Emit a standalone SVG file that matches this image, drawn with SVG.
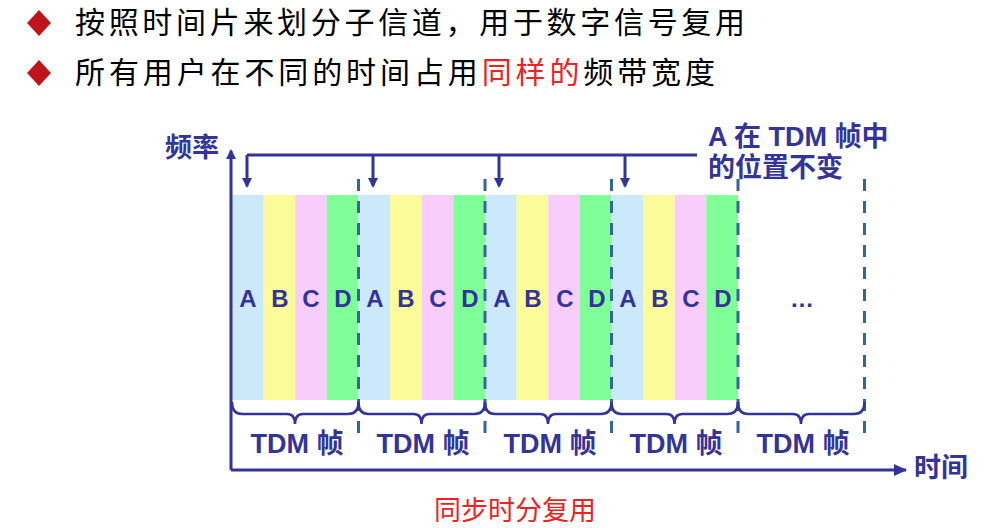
<svg xmlns="http://www.w3.org/2000/svg" width="1004" height="528" viewBox="0 0 1004 528">
<style>
.hd{font-family:"Noto Sans CJK SC","Noto Sans",sans-serif;font-size:30px;fill:#000}
.lb{font-family:"Liberation Sans","Noto Sans CJK SC",sans-serif;font-weight:bold;fill:#333399}
.sl{font-size:24px;text-anchor:middle}
.tf{font-size:27px;text-anchor:middle}
.ax{stroke:#333399;stroke-width:3;fill:none}
.dash{stroke:#336699;stroke-width:3;stroke-dasharray:12 10;fill:none}
.br{stroke:#333399;stroke-width:2.5;fill:none}
.a{fill:#CCE8FB}.b{fill:#FBFB99}.c{fill:#F8CCFB}.d{fill:#80FF99}
</style>
<defs>
<marker id="ah" markerWidth="10" markerHeight="10" refX="8" refY="5" orient="auto" markerUnits="userSpaceOnUse">
<path d="M0,0 L10,5 L0,10 Z" fill="#333399"/>
</marker>
<marker id="ah2" markerWidth="14" markerHeight="14" refX="12" refY="7" orient="auto" markerUnits="userSpaceOnUse">
<path d="M0,1 L13,7 L0,13 Z" fill="#333399"/>
</marker>
</defs>
<g id="header">
<path d="M39,10 L51,23 L39,36 L27,23 Z" fill="#C0141C"/>
<text class="hd" x="75" y="33" textLength="670">按照时间片来划分子信道，用于数字信号复用</text>
<path d="M39,60 L51,73 L39,86 L27,73 Z" fill="#C0141C"/>
<text class="hd" x="75" y="83" textLength="640">所有用户在不同的时间占用<tspan fill="#EE2222">同样的</tspan>频带宽度</text>
</g>
<g id="frames">
<g id="frame1">
<rect class="a" x="232" y="195" width="31.6" height="205"/><rect class="b" x="263.6" y="195" width="31.6" height="205"/><rect class="c" x="295.2" y="195" width="31.6" height="205"/><rect class="d" x="326.8" y="195" width="31.7" height="205"/>
<text class="lb sl" x="248" y="307">A</text><text class="lb sl" x="280" y="307">B</text><text class="lb sl" x="311" y="307">C</text><text class="lb sl" x="343" y="307">D</text>
</g>
<g id="frame2">
<rect class="a" x="358.5" y="195" width="31.6" height="205"/><rect class="b" x="390.1" y="195" width="31.6" height="205"/><rect class="c" x="421.7" y="195" width="31.6" height="205"/><rect class="d" x="453.3" y="195" width="31.7" height="205"/>
<text class="lb sl" x="375" y="307">A</text><text class="lb sl" x="406" y="307">B</text><text class="lb sl" x="438" y="307">C</text><text class="lb sl" x="470" y="307">D</text>
</g>
<g id="frame3">
<rect class="a" x="485" y="195" width="31.6" height="205"/><rect class="b" x="516.6" y="195" width="31.6" height="205"/><rect class="c" x="548.2" y="195" width="31.6" height="205"/><rect class="d" x="579.8" y="195" width="31.7" height="205"/>
<text class="lb sl" x="502" y="307">A</text><text class="lb sl" x="533" y="307">B</text><text class="lb sl" x="565" y="307">C</text><text class="lb sl" x="597" y="307">D</text>
</g>
<g id="frame4">
<rect class="a" x="611.5" y="195" width="31.6" height="205"/><rect class="b" x="643.1" y="195" width="31.6" height="205"/><rect class="c" x="674.7" y="195" width="31.6" height="205"/><rect class="d" x="706.3" y="195" width="31.7" height="205"/>
<text class="lb sl" x="628" y="307">A</text><text class="lb sl" x="660" y="307">B</text><text class="lb sl" x="691" y="307">C</text><text class="lb sl" x="723" y="307">D</text>
</g>
<g id="frame5">
<text class="lb sl" x="802" y="307">…</text>
</g>
</g>
<g id="connectors">
<path class="dash" d="M358.5,179 V442 M485,179 V442 M611.5,179 V442 M738,179 V442 M864.5,179 V442"/>
<path class="ax" d="M231,470 V151" marker-end="url(#ah)"/>
<path class="ax" d="M231,470 H906" marker-end="url(#ah2)"/>
<path class="ax" d="M247,155 H697"/>
<path class="ax" d="M247,155 V186" marker-end="url(#ah)"/>
<path class="ax" d="M373,155 V186" marker-end="url(#ah)"/>
<path class="ax" d="M499,155 V186" marker-end="url(#ah)"/>
<path class="ax" d="M625,155 V186" marker-end="url(#ah)"/>
<path class="br" d="M232,402 Q232,414 242,414 H287 Q295,414 295,424 Q295,414 303,414 H348 Q358.5,414 358.5,402"/>
<path class="br" d="M358.5,402 Q358.5,414 368.5,414 H413.5 Q421.5,414 421.5,424 Q421.5,414 429.5,414 H474.5 Q485,414 485,402"/>
<path class="br" d="M485,402 Q485,414 495,414 H540 Q548,414 548,424 Q548,414 556,414 H601 Q611.5,414 611.5,402"/>
<path class="br" d="M611.5,402 Q611.5,414 621.5,414 H666.5 Q674.5,414 674.5,424 Q674.5,414 682.5,414 H727.5 Q738,414 738,402"/>
<path class="br" d="M738,402 Q738,414 748,414 H793 Q801,414 801,424 Q801,414 809,414 H854 Q864.5,414 864.5,402"/>
</g>
<g id="labels">
<text class="lb tf" x="297" y="453">TDM 帧</text>
<text class="lb tf" x="423" y="453">TDM 帧</text>
<text class="lb tf" x="550" y="453">TDM 帧</text>
<text class="lb tf" x="676" y="453">TDM 帧</text>
<text class="lb tf" x="803" y="453">TDM 帧</text>
<text class="lb" x="165" y="157" font-size="27">频率</text>
<text class="lb" x="914" y="477" font-size="27">时间</text>
<text class="lb" x="708" y="146" font-size="27">A 在 TDM 帧中</text>
<text class="lb" x="708" y="177" font-size="27">的位置不变</text>
<text x="515" y="520" font-family="Noto Sans CJK SC,sans-serif" font-size="27" fill="#EE2222" text-anchor="middle">同步时分复用</text>
</g>
</svg>
